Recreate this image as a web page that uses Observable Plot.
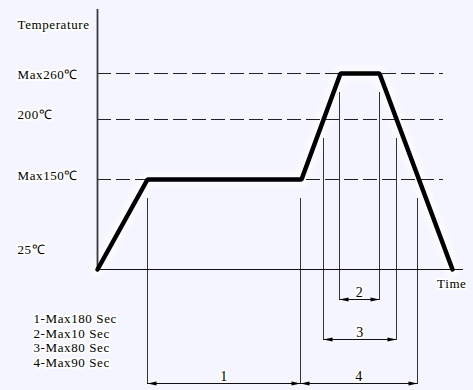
<!DOCTYPE html>
<html>
<head>
<meta charset="utf-8">
<script src="https://cdn.jsdelivr.net/npm/d3@7"></script>
<script src="https://cdn.jsdelivr.net/npm/@observablehq/plot@0.6"></script>
<style>
  html, body { margin: 0; padding: 0; background: #f4f5fe; }
</style>
</head>
<body>
<div id="chart"></div>
<script>
// Reflow soldering temperature profile (schematic time axis)
const profileTime = [0, 50, 204, 243, 282, 355];
const profileTemp = [25, 150, 150, 260, 260, 25];

const tempTicks = [260, 200, 150, 25];
const tempLabels = ["Max260℃", "200℃", "Max150℃", "25℃"];

// Timed zones: where each dimension starts and ends, and the level it is measured at
const zoneIds = ["1", "2", "3", "4"];
const zoneStart = [50, 242, 226, 203];
const zoneEnd = [203, 282, 299, 320];
const zoneLevel = [150, 260, 200, 150];
const zoneNotes = ["1-Max180 Sec", "2-Max10 Sec", "3-Max80 Sec", "4-Max90 Sec"];

const timeMax = 366;
const tempMax = 300;

// ---- layout ----
const W = 473, H = 390;
const margin = {top: 9, right: 10, bottom: 121, left: 97};
const tempPx = [269, 179, 119, 73, 9];        // piecewise schematic temperature axis
const laneDrop = [114, 30, 70, 114];          // dimension line offset below the time axis
const labelLift = [5, -1, 0, -16];            // baseline shift of each temperature label
const ink = "#111";
const halo = {stroke: "#fff", strokeWidth: 4, strokeOpacity: 0.9};

const profile = profileTime.map((t, i) => ({t, temp: profileTemp[i]}));
const zones = zoneIds.map((id, i) => ({
  id, start: zoneStart[i], end: zoneEnd[i], level: zoneLevel[i], lane: laneDrop[i]
}));

// Narrow filled arrowhead, tip at the origin, pointing right
const head = {
  draw(ctx) {
    ctx.moveTo(0, 0);
    ctx.lineTo(-9, -2);
    ctx.lineTo(-9, 2);
    ctx.closePath();
  }
};

const zoneMarks = zones.flatMap(z => [
  Plot.ruleX([z.start, z.end], {
    y1: z.level, y2: 25, insetTop: 19, insetBottom: -(z.lane + 1),
    stroke: "#333", strokeWidth: 1
  }),
  Plot.ruleY([z], {x1: "start", x2: "end", y: () => 25, dy: z.lane, stroke: ink, strokeWidth: 1.2}),
  Plot.dot([z], {x: "start", y: () => 25, dy: z.lane, symbol: head, rotate: 180, fill: "#000", stroke: "none"}),
  Plot.dot([z], {x: "end", y: () => 25, dy: z.lane, symbol: head, rotate: 0, fill: "#000", stroke: "none"}),
  Plot.text([z], {
    x: d => (d.start + d.end) / 2, y: () => 25, dy: z.lane - 7,
    text: "id", fontSize: 14, fill: "#000", ...halo
  })
]);

const tempLabelMarks = tempTicks.map((v, i) =>
  Plot.text([v], {
    y: d => d, text: () => tempLabels[i],
    frameAnchor: "left", textAnchor: "start", lineAnchor: "bottom",
    dx: -80, dy: labelLift[i], fontSize: 13, fill: "#000", ...halo
  })
);

const chart = Plot.plot({
  width: W,
  height: H,
  marginTop: margin.top,
  marginRight: margin.right,
  marginBottom: margin.bottom,
  marginLeft: margin.left,
  x: {domain: [0, timeMax], range: [margin.left, W - margin.right], axis: null},
  y: {type: "linear", domain: [25, 150, 200, 260, tempMax], range: tempPx, axis: null},
  style: {
    background: "#f4f5fe",
    fontFamily: "'Liberation Serif', 'Times New Roman', serif",
    fontSize: "13px",
    letterSpacing: "0.6px",
    color: "#000"
  },
  marks: [
    // soft glow under the profile
    Plot.line(profile, {x: "t", y: "temp", stroke: "#fff", strokeWidth: 16, strokeOpacity: 0.55}),
    // dashed reference levels
    Plot.ruleY(tempTicks.filter(v => v > 25), {
      x1: 0, x2: 346, stroke: "#222", strokeWidth: 1, strokeDasharray: "14,5"
    }),
    ...zoneMarks,
    // axes
    Plot.ruleY([25], {x1: 0, x2: timeMax, stroke: ink, strokeWidth: 1.2}),
    Plot.ruleX([0], {y1: 25, y2: tempMax, stroke: "#3a3a3a", strokeWidth: 1.8}),
    // temperature profile
    Plot.line(profile, {
      x: "t", y: "temp", stroke: "#000", strokeWidth: 4.5,
      strokeLinejoin: "miter", strokeLinecap: "round"
    }),
    ...tempLabelMarks,
    Plot.text(["Temperature"], {
      frameAnchor: "top-left", textAnchor: "start", lineAnchor: "bottom",
      dx: -80, dy: 19, fontSize: 13, fill: "#000", ...halo
    }),
    Plot.text(["Time"], {
      frameAnchor: "bottom-right", textAnchor: "end", lineAnchor: "bottom",
      dx: 3, dy: 18, fontSize: 13, fill: "#000", ...halo
    }),
    Plot.text([zoneNotes.join("\n")], {
      frameAnchor: "bottom-left", textAnchor: "start", lineAnchor: "top",
      dx: -64, dy: 43, lineHeight: 1.13, fontSize: 13, fill: "#000", ...halo
    })
  ]
});

// blur the glow so it reads as a soft halo
const glow = chart.querySelector('g[aria-label="line"]');
if (glow) glow.style.filter = "blur(2px)";

document.getElementById("chart").appendChild(chart);
</script>
</body>
</html>
